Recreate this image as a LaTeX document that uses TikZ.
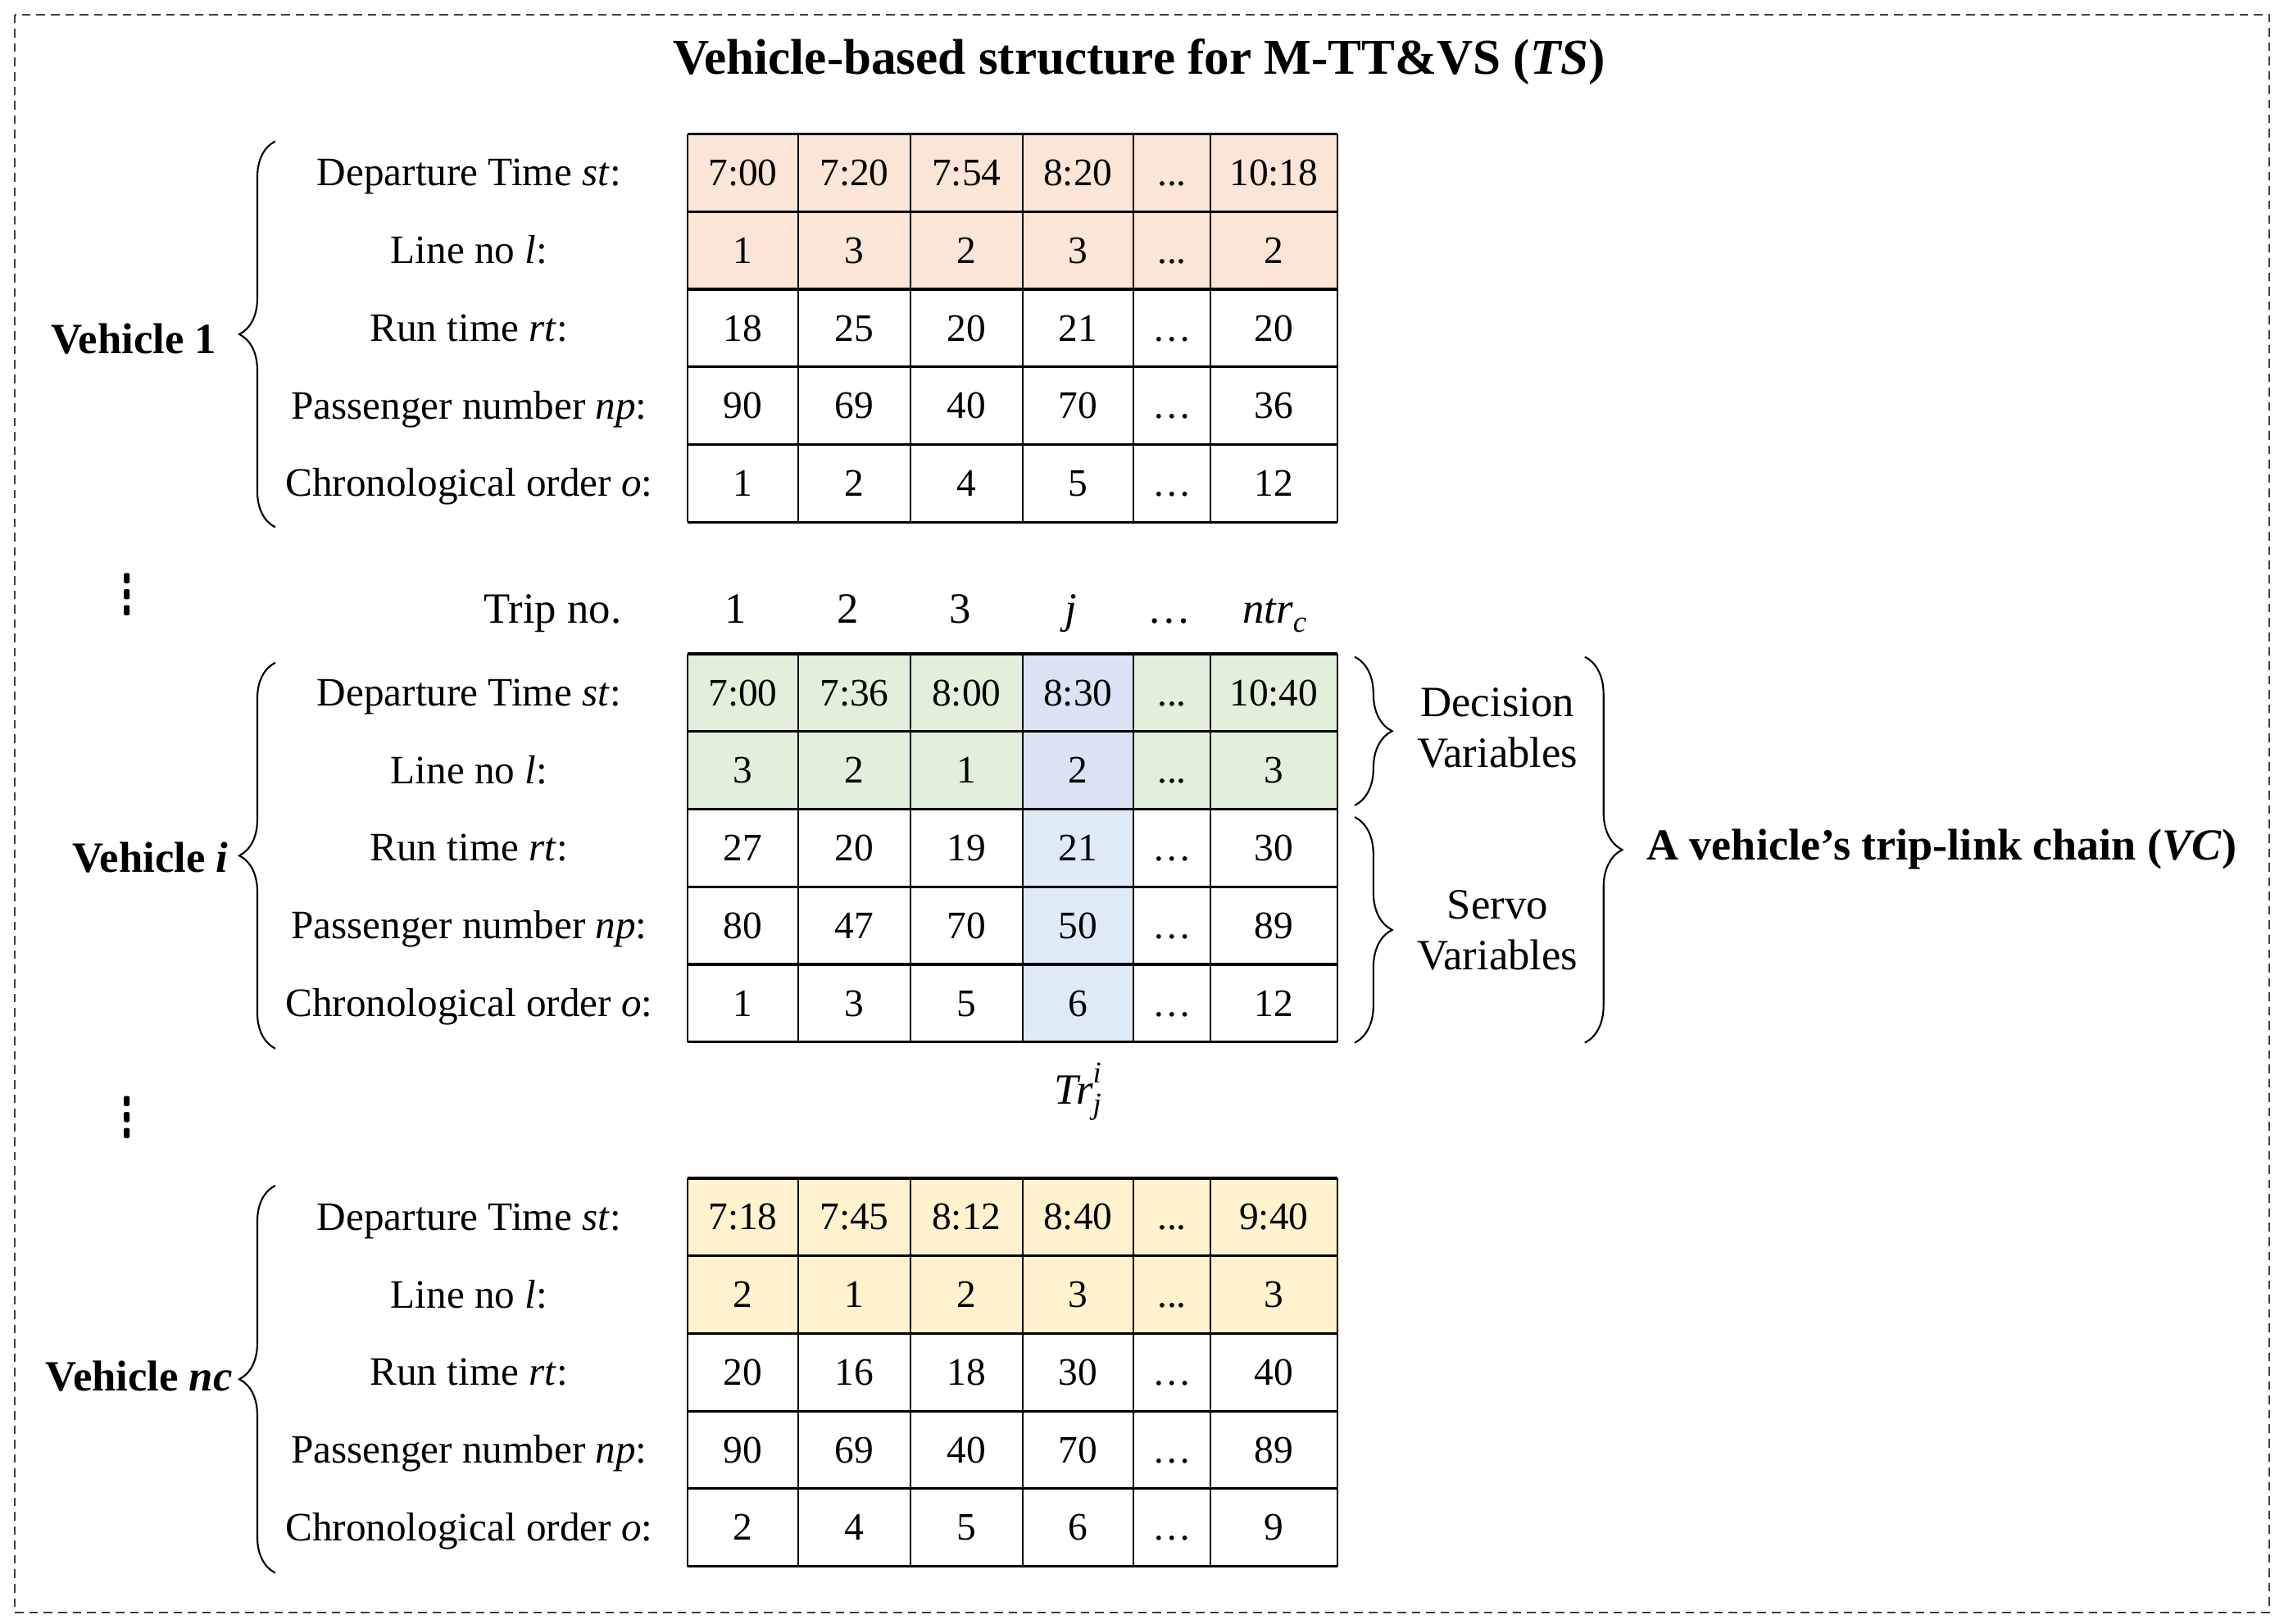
\documentclass[tikz,border=0pt]{standalone}
\usepackage{fontspec}
\setmainfont{Liberation Serif}
\usetikzlibrary{decorations.pathreplacing}
\definecolor{peach}{HTML}{FBE5D6}
\definecolor{lgreen}{HTML}{E2EFDA}
\definecolor{lblueA}{HTML}{DAE3F3}
\definecolor{lblueB}{HTML}{DEEBF7}
\definecolor{lyellow}{HTML}{FFF2CC}
\newcommand\tdd{...}
\newcommand\tripRow[4]{%
  \foreach \v [count=\c from 0] in {#4}{%
    \pgfmathsetmacro\cx{{510,586.5,663.5,740,804.5,874.5}[\c]}%
    \pgfmathsetmacro\cy{#3+53.3*(#2-0.5)+8.8}%
    \node[cell] (#1r#2c\c) at (\cx,\cy) {\v};
  }}
\newcommand\rowLabels[2]{%
  \foreach \t [count=\r] in {{Departure Time \textit{st}:},{Line no \textit{l}:},{Run time \textit{rt}:},{Passenger number \textit{np}:},{Chronological order \textit{o}:}}{%
    \pgfmathsetmacro\cy{#2+53.3*(\r-0.5)+9}%
    \node[rowlabel] (#1lab\r) at (322,\cy) {\t};
  }}
\newcommand\tripGrid[1]{%
  \foreach \xx in {472,548,625,702,778,831,918} \draw[gridline] (\xx,#1) -- (\xx,{#1+266.5});
  \foreach \k in {0,...,5} \draw[hline] (472,{#1+53.3*\k}) -- (918,{#1+53.3*\k});
}
\newcommand\vdotsmark[2]{%
  \foreach \dy in {-11,0,11} \fill[rounded corners=0.6pt] ({#1-2},{#2+\dy-3.5}) rectangle ({#1+2},{#2+\dy+3.5});
}
\begin{document}
\begin{tikzpicture}[x=0.017774cm,y=-0.017774cm,
  cell/.style={anchor=base,inner sep=0pt,font=\fontsize{13.5}{16}\selectfont},
  rowlabel/.style={anchor=base,inner sep=0pt,font=\fontsize{14}{16}\selectfont},
  hdr/.style={anchor=base,inner sep=0pt,font=\fontsize{15}{18}\selectfont},
  vlabel/.style={anchor=base east,inner sep=0pt,font=\fontsize{15}{18}\selectfont\bfseries},
  sidelabel/.style={align=center,inner sep=0pt,font=\fontsize{15}{17.7}\selectfont},
  gridline/.style={line width=0.6pt,black},
  hline/.style={line width=0.9pt,black},
  lbrace/.style={decorate,decoration={brace,amplitude=12.5pt},line width=0.6pt},
  rbrace/.style={decorate,decoration={brace,amplitude=13pt},line width=0.6pt},
  border/.style={line width=0.6pt,black!75,dash pattern=on 3pt off 2pt}]
\useasboundingbox (0,0) rectangle (1568,1114.55);
\draw[border] (10,10) rectangle (1558,1107);

\node[anchor=base,inner sep=0pt,font=\fontsize{17.4}{20}\selectfont\bfseries] (title) at (782,51)
  {Vehicle-based structure for M-TT\&VS (\textit{TS})};

% ---------- table 1 ----------
\fill[peach] (472,92) rectangle (918,{92+2*53.3});
\tripGrid{92}
\rowLabels{a}{92}
\tripRow{a}{1}{92}{7:00,7:20,7:54,8:20,\tdd,10:18}
\tripRow{a}{2}{92}{1,3,2,3,\tdd,2}
\tripRow{a}{3}{92}{18,25,20,21,…,20}
\tripRow{a}{4}{92}{90,69,40,70,…,36}
\tripRow{a}{5}{92}{1,2,4,5,…,12}
\coordinate (a-bt) at (189,97);
\coordinate (a-bb) at (189,362);
\draw[lbrace] (a-bb) -- (a-bt);
\node[vlabel] (veh1) at (149,243) {Vehicle 1};

\vdotsmark{87}{408}

% ---------- trip header ----------
\node[anchor=base east,inner sep=0pt,font=\fontsize{15}{18}\selectfont] (tripno) at (427,428) {Trip no.};
\node[hdr] (h1) at (505,428) {1};
\node[hdr] (h2) at (582,428) {2};
\node[hdr] (h3) at (659,428) {3};
\node[hdr] (h4) at (735,428) {\textit{j}};
\node[hdr] (h5) at (803,428) {…};
\node[hdr] (h6) at (875,428) {\textit{ntr}\raisebox{-0.45ex}{\fontsize{10.5}{12}\selectfont\textit{c}}};

% ---------- table 2 ----------
\fill[lgreen] (472,449) rectangle (918,{449+2*53.3});
\fill[lblueA] (702,449) rectangle (778,{449+2*53.3});
\fill[lblueB] (702,{449+2*53.3}) rectangle (778,{449+5*53.3});
\tripGrid{449}
\rowLabels{b}{449}
\tripRow{b}{1}{449}{7:00,7:36,8:00,8:30,\tdd,10:40}
\tripRow{b}{2}{449}{3,2,1,2,\tdd,3}
\tripRow{b}{3}{449}{27,20,19,21,…,30}
\tripRow{b}{4}{449}{80,47,70,50,…,89}
\tripRow{b}{5}{449}{1,3,5,6,…,12}
\coordinate (b-bt) at (189,455);
\coordinate (b-bb) at (189,720);
\draw[lbrace] (b-bb) -- (b-bt);
\node[vlabel] (vehi) at (157,599) {Vehicle \textit{i}};

\coordinate (d-t) at (930,451);
\coordinate (d-b) at (930,553);
\draw[rbrace] (d-t) -- (d-b);
\node[sidelabel] (dec) at (1028,500) {Decision\\Variables};
\coordinate (s-t) at (930,561);
\coordinate (s-b) at (930,716);
\draw[rbrace] (s-t) -- (s-b);
\node[sidelabel] (servo) at (1028,639) {Servo\\Variables};
\coordinate (c-t) at (1088,451);
\coordinate (c-b) at (1088,716);
\draw[rbrace] (c-t) -- (c-b);
\node[anchor=west,inner sep=0pt,font=\fontsize{15.4}{18}\selectfont\bfseries] (vc) at (1130,583)
  {A vehicle’s trip-link chain (\textit{VC})};

\node[anchor=base,inner sep=0pt,font=\fontsize{15}{18}\selectfont] (trji) at (740,758)
  {\textit{Tr}\rlap{\raisebox{1.05ex}{\fontsize{10.5}{12}\selectfont\textit{i}}}\raisebox{-0.5ex}{\fontsize{10.5}{12}\selectfont\textit{j}}};

\vdotsmark{87}{767}

% ---------- table 3 ----------
\fill[lyellow] (472,809) rectangle (918,{809+2*53.3});
\tripGrid{809}
\rowLabels{c}{809}
\tripRow{c}{1}{809}{7:18,7:45,8:12,8:40,\tdd,9:40}
\tripRow{c}{2}{809}{2,1,2,3,\tdd,3}
\tripRow{c}{3}{809}{20,16,18,30,…,40}
\tripRow{c}{4}{809}{90,69,40,70,…,89}
\tripRow{c}{5}{809}{2,4,5,6,…,9}
\coordinate (c3-bt) at (189,814);
\coordinate (c3-bb) at (189,1080);
\draw[lbrace] (c3-bb) -- (c3-bt);
\node[vlabel] (vehnc) at (160,955) {Vehicle \textit{nc}};
\end{tikzpicture}
\end{document}
